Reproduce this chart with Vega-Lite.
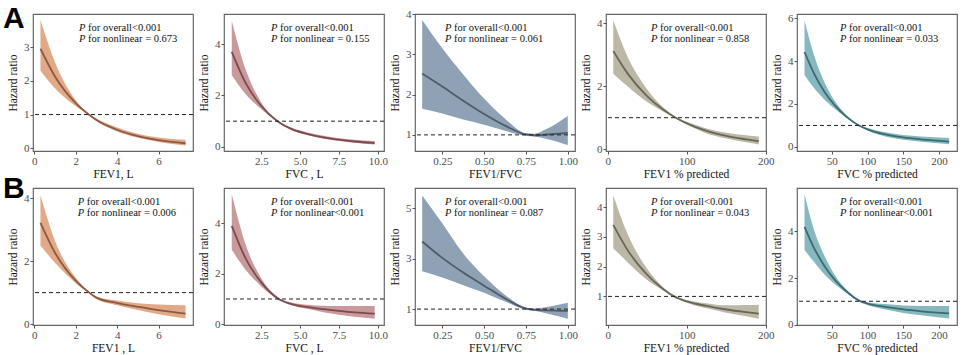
{
  "$schema": "https://vega.github.io/schema/vega-lite/v6.json",
  "background": "white",
  "padding": {"left": 2, "top": 3, "right": 5, "bottom": 0},
  "columns": 5,
  "spacing": {"row": 37, "column": 31},
  "bounds": "flush",
  "config": {
    "view": {"stroke": "#666", "strokeWidth": 1.2},
    "axis": {"grid": false, "domain": false, "tickColor": "#555", "tickSize": 3, "labelColor": "#4d4d4d", "labelFont": "Liberation Serif", "labelFontSize": 11, "labelPadding": 1, "labelOverlap": false, "labelFlush": false, "labelBound": false, "titleFont": "Liberation Serif", "titleFontSize": 11.5, "titleFontWeight": "normal", "titleColor": "#111", "titlePadding": 2},
    "axisX": {"labelOverlap": false},
    "axisY": {"labelOverlap": false, "titlePadding": 5},
    "line": {"strokeWidth": 1.8, "interpolate": "monotone"},
    "area": {"interpolate": "monotone"},
    "rule": {"strokeDash": [4, 3], "color": "#222", "strokeWidth": 1}
  },
  "datasets": {
    "d1": [{"x":0.3,"hr":2.95,"lo":2.3,"hi":3.8},{"x":1,"hr":2.13,"lo":1.78,"hi":2.55},{"x":2,"hr":1.34,"lo":1.25,"hi":1.43},{"x":2.63,"hr":1.0,"lo":0.98,"hi":1.02},{"x":3,"hr":0.84,"lo":0.81,"hi":0.88},{"x":4,"hr":0.55,"lo":0.5,"hi":0.62},{"x":5,"hr":0.36,"lo":0.31,"hi":0.43},{"x":6,"hr":0.24,"lo":0.19,"hi":0.32},{"x":7.3,"hr":0.15,"lo":0.08,"hi":0.25}],
    "d2": [{"x":0.6,"hr":3.7,"lo":2.8,"hi":4.9},{"x":1.5,"hr":2.48,"lo":2.05,"hi":3.0},{"x":2.5,"hr":1.59,"lo":1.47,"hi":1.73},{"x":3.54,"hr":1.0,"lo":0.97,"hi":1.03},{"x":4.5,"hr":0.68,"lo":0.64,"hi":0.73},{"x":5.5,"hr":0.5,"lo":0.45,"hi":0.56},{"x":6.5,"hr":0.37,"lo":0.32,"hi":0.43},{"x":7.5,"hr":0.28,"lo":0.23,"hi":0.34},{"x":8.5,"hr":0.21,"lo":0.16,"hi":0.28},{"x":9.8,"hr":0.15,"lo":0.09,"hi":0.23}],
    "d3": [{"x":0.13,"hr":2.52,"lo":1.65,"hi":3.85},{"x":0.25,"hr":2.2,"lo":1.53,"hi":3.15},{"x":0.375,"hr":1.85,"lo":1.38,"hi":2.5},{"x":0.5,"hr":1.52,"lo":1.25,"hi":1.9},{"x":0.625,"hr":1.23,"lo":1.1,"hi":1.4},{"x":0.75,"hr":1.01,"lo":0.98,"hi":1.04},{"x":0.8,"hr":0.99,"lo":0.96,"hi":1.03},{"x":0.875,"hr":1.01,"lo":0.9,"hi":1.15},{"x":1.0,"hr":1.05,"lo":0.75,"hi":1.47}],
    "d4": [{"x":7,"hr":3.12,"lo":2.4,"hi":4.1},{"x":25,"hr":2.41,"lo":2.0,"hi":2.95},{"x":50,"hr":1.68,"lo":1.5,"hi":1.9},{"x":70,"hr":1.26,"lo":1.2,"hi":1.33},{"x":86,"hr":1.0,"lo":0.98,"hi":1.02},{"x":100,"hr":0.82,"lo":0.78,"hi":0.87},{"x":125,"hr":0.58,"lo":0.5,"hi":0.66},{"x":150,"hr":0.42,"lo":0.34,"hi":0.52},{"x":175,"hr":0.31,"lo":0.22,"hi":0.44},{"x":191,"hr":0.25,"lo":0.15,"hi":0.4}],
    "d5": [{"x":12,"hr":4.42,"lo":3.35,"hi":5.9},{"x":25,"hr":3.44,"lo":2.75,"hi":4.3},{"x":40,"hr":2.56,"lo":2.2,"hi":3.0},{"x":55,"hr":1.91,"lo":1.75,"hi":2.1},{"x":70,"hr":1.42,"lo":1.36,"hi":1.5},{"x":88,"hr":1.0,"lo":0.97,"hi":1.03},{"x":100,"hr":0.82,"lo":0.76,"hi":0.88},{"x":125,"hr":0.58,"lo":0.48,"hi":0.68},{"x":150,"hr":0.44,"lo":0.33,"hi":0.55},{"x":175,"hr":0.35,"lo":0.24,"hi":0.48},{"x":214,"hr":0.25,"lo":0.12,"hi":0.42}],
    "d6": [{"x":0.3,"hr":3.22,"lo":2.5,"hi":4.1},{"x":1,"hr":2.27,"lo":1.95,"hi":2.65},{"x":2,"hr":1.38,"lo":1.3,"hi":1.47},{"x":2.65,"hr":1.0,"lo":0.97,"hi":1.03},{"x":3,"hr":0.84,"lo":0.8,"hi":0.88},{"x":4,"hr":0.67,"lo":0.6,"hi":0.75},{"x":5,"hr":0.55,"lo":0.45,"hi":0.66},{"x":6,"hr":0.44,"lo":0.31,"hi":0.62},{"x":7.3,"hr":0.33,"lo":0.18,"hi":0.6}],
    "d7": [{"x":0.6,"hr":3.9,"lo":2.95,"hi":5.15},{"x":1.5,"hr":2.6,"lo":2.15,"hi":3.15},{"x":2.5,"hr":1.66,"lo":1.5,"hi":1.82},{"x":3.63,"hr":1.0,"lo":0.96,"hi":1.04},{"x":4.5,"hr":0.79,"lo":0.74,"hi":0.85},{"x":5.5,"hr":0.68,"lo":0.6,"hi":0.77},{"x":6.5,"hr":0.6,"lo":0.48,"hi":0.73},{"x":7.5,"hr":0.53,"lo":0.38,"hi":0.72},{"x":8.5,"hr":0.47,"lo":0.3,"hi":0.72},{"x":9.8,"hr":0.42,"lo":0.22,"hi":0.72}],
    "d8": [{"x":0.13,"hr":3.68,"lo":2.5,"hi":5.5},{"x":0.25,"hr":3.03,"lo":2.25,"hi":4.4},{"x":0.375,"hr":2.45,"lo":1.95,"hi":3.2},{"x":0.5,"hr":1.93,"lo":1.65,"hi":2.3},{"x":0.625,"hr":1.42,"lo":1.3,"hi":1.56},{"x":0.75,"hr":1.02,"lo":0.98,"hi":1.06},{"x":0.8,"hr":0.97,"lo":0.93,"hi":1.02},{"x":0.875,"hr":0.95,"lo":0.83,"hi":1.08},{"x":1.0,"hr":0.93,"lo":0.62,"hi":1.25}],
    "d9": [{"x":7,"hr":3.4,"lo":2.62,"hi":4.4},{"x":25,"hr":2.56,"lo":2.15,"hi":3.1},{"x":50,"hr":1.72,"lo":1.55,"hi":1.92},{"x":70,"hr":1.25,"lo":1.2,"hi":1.31},{"x":84,"hr":1.0,"lo":0.98,"hi":1.02},{"x":100,"hr":0.83,"lo":0.79,"hi":0.88},{"x":125,"hr":0.68,"lo":0.6,"hi":0.77},{"x":150,"hr":0.56,"lo":0.45,"hi":0.7},{"x":175,"hr":0.47,"lo":0.33,"hi":0.71},{"x":191,"hr":0.42,"lo":0.25,"hi":0.72}],
    "d10": [{"x":12,"hr":4.2,"lo":3.2,"hi":5.6},{"x":25,"hr":3.31,"lo":2.7,"hi":4.1},{"x":40,"hr":2.51,"lo":2.15,"hi":2.95},{"x":55,"hr":1.9,"lo":1.72,"hi":2.1},{"x":70,"hr":1.44,"lo":1.37,"hi":1.52},{"x":90,"hr":1.0,"lo":0.96,"hi":1.04},{"x":100,"hr":0.9,"lo":0.84,"hi":0.96},{"x":125,"hr":0.76,"lo":0.65,"hi":0.88},{"x":150,"hr":0.65,"lo":0.5,"hi":0.82},{"x":175,"hr":0.57,"lo":0.4,"hi":0.8},{"x":214,"hr":0.48,"lo":0.26,"hi":0.8}],
    "ref": [{"hr":1}],
    "lab": [{"panel":1,"x":-1.51,"y":3.565,"label":"A"},{"panel":6,"x":-1.51,"y":4.01,"label":"B"}],
    "ann": [
      {"panel":1,"x":2.16,"y":3.565,"p":"P","rest":"for overall<0.001"},{"panel":1,"x":2.16,"y":3.24,"p":"P","rest":"for nonlinear = 0.673"},
      {"panel":2,"x":3.13,"y":4.625,"p":"P","rest":"for overall<0.001"},{"panel":2,"x":3.13,"y":4.2,"p":"P","rest":"for nonlinear = 0.155"},
      {"panel":3,"x":0.266,"y":3.65,"p":"P","rest":"for overall<0.001"},{"panel":3,"x":0.266,"y":3.38,"p":"P","rest":"for nonlinear = 0.061"},
      {"panel":4,"x":54.7,"y":3.85,"p":"P","rest":"for overall<0.001"},{"panel":4,"x":54.7,"y":3.5,"p":"P","rest":"for nonlinear = 0.858"},
      {"panel":5,"x":61.6,"y":5.54,"p":"P","rest":"for overall<0.001"},{"panel":5,"x":61.6,"y":5.03,"p":"P","rest":"for nonlinear = 0.033"},
      {"panel":6,"x":2.1,"y":3.88,"p":"P","rest":"for overall<0.001"},{"panel":6,"x":2.1,"y":3.53,"p":"P","rest":"for nonlinear = 0.006"},
      {"panel":7,"x":3.13,"y":4.845,"p":"P","rest":"for overall<0.001"},{"panel":7,"x":3.13,"y":4.41,"p":"P","rest":"for nonlinear<0.001"},
      {"panel":8,"x":0.266,"y":5.245,"p":"P","rest":"for overall<0.001"},{"panel":8,"x":0.266,"y":4.81,"p":"P","rest":"for nonlinear = 0.087"},
      {"panel":9,"x":54.7,"y":4.17,"p":"P","rest":"for overall<0.001"},{"panel":9,"x":54.7,"y":3.8,"p":"P","rest":"for nonlinear = 0.043"},
      {"panel":10,"x":61.6,"y":5.27,"p":"P","rest":"for overall<0.001"},{"panel":10,"x":61.6,"y":4.79,"p":"P","rest":"for nonlinear<0.001"}
    ]
  },
  "concat": [
    {"width":160,"height":137,
     "layer":[
      {"data":{"name":"d1"},"mark":{"type":"area","color":"#e2a987"},"encoding":{"x":{"field":"x","type":"quantitative","title":"FEV1, L","scale":{"domain":[-0.06,7.66],"nice":false,"zero":false},"axis":{"values":[0,2,4,6],"labelOverlap":false}},"y":{"field":"lo","type":"quantitative","title":"Hazard ratio","scale":{"domain":[-0.08,3.98],"nice":false,"zero":false},"axis":{"values":[0,1,2,3],"labelOverlap":false}},"y2":{"field":"hi"}}},
      {"data":{"name":"d1"},"mark":{"type":"line","color":"#8b5a45"},"encoding":{"x":{"field":"x","type":"quantitative","title":"FEV1, L"},"y":{"field":"hr","type":"quantitative","title":"Hazard ratio"}}},
      {"data":{"name":"ref"},"mark":{"type":"rule"},"encoding":{"y":{"field":"hr","type":"quantitative","title":"Hazard ratio"}}},
      {"data":{"name":"ann"},"transform":[{"filter":"datum.panel==1"}],"mark":{"type":"text","font":"Liberation Serif","fontSize":10.5,"align":"left","baseline":"middle","color":"#111","fontStyle":"italic"},"encoding":{"x":{"field":"x","type":"quantitative","title":"FEV1, L"},"y":{"field":"y","type":"quantitative","title":"Hazard ratio"},"text":{"field":"p"}}},
      {"data":{"name":"ann"},"transform":[{"filter":"datum.panel==1"}],"mark":{"type":"text","font":"Liberation Serif","fontSize":10.5,"align":"left","baseline":"middle","color":"#111","dx":9},"encoding":{"x":{"field":"x","type":"quantitative","title":"FEV1, L"},"y":{"field":"y","type":"quantitative","title":"Hazard ratio"},"text":{"field":"rest"}}},
      {"data":{"name":"lab"},"transform":[{"filter":"datum.panel==1"}],"mark":{"type":"text","font":"Liberation Sans","fontSize":30,"fontWeight":"bold","baseline":"alphabetic","align":"left","clip":false,"color":"#000"},"encoding":{"x":{"field":"x","type":"quantitative","title":"FEV1, L"},"y":{"field":"y","type":"quantitative","title":"Hazard ratio"},"text":{"field":"label"}}}
     ]},
    {"width":160,"height":137,
     "layer":[
      {"data":{"name":"d2"},"mark":{"type":"area","color":"#c9999c"},"encoding":{"x":{"field":"x","type":"quantitative","title":"FVC , L","scale":{"domain":[0.1,10.4],"nice":false,"zero":false},"axis":{"values":[2.5,5,7.5,10],"format":".1f","labelOverlap":false}},"y":{"field":"lo","type":"quantitative","title":"Hazard ratio","scale":{"domain":[-0.16,5.17],"nice":false,"zero":false},"axis":{"values":[0,1,2,3,4,5],"labelOverlap":false}},"y2":{"field":"hi"}}},
      {"data":{"name":"d2"},"mark":{"type":"line","color":"#7b4b50"},"encoding":{"x":{"field":"x","type":"quantitative","title":"FVC , L"},"y":{"field":"hr","type":"quantitative","title":"Hazard ratio"}}},
      {"data":{"name":"ref"},"mark":{"type":"rule"},"encoding":{"y":{"field":"hr","type":"quantitative","title":"Hazard ratio"}}},
      {"data":{"name":"ann"},"transform":[{"filter":"datum.panel==2"}],"mark":{"type":"text","font":"Liberation Serif","fontSize":10.5,"align":"left","baseline":"middle","color":"#111","fontStyle":"italic"},"encoding":{"x":{"field":"x","type":"quantitative","title":"FVC , L"},"y":{"field":"y","type":"quantitative","title":"Hazard ratio"},"text":{"field":"p"}}},
      {"data":{"name":"ann"},"transform":[{"filter":"datum.panel==2"}],"mark":{"type":"text","font":"Liberation Serif","fontSize":10.5,"align":"left","baseline":"middle","color":"#111","dx":9},"encoding":{"x":{"field":"x","type":"quantitative","title":"FVC , L"},"y":{"field":"y","type":"quantitative","title":"Hazard ratio"},"text":{"field":"rest"}}}
     ]},
    {"width":160,"height":137,
     "layer":[
      {"data":{"name":"d3"},"mark":{"type":"area","color":"#8fa2b5"},"encoding":{"x":{"field":"x","type":"quantitative","title":"FEV1/FVC","scale":{"domain":[0.087,1.043],"nice":false,"zero":false},"axis":{"values":[0.25,0.5,0.75,1],"format":".2f","labelOverlap":false}},"y":{"field":"lo","type":"quantitative","title":"Hazard ratio","scale":{"domain":[0.6,4.0],"nice":false,"zero":false},"axis":{"values":[1,2,3,4],"labelOverlap":false}},"y2":{"field":"hi"}}},
      {"data":{"name":"d3"},"mark":{"type":"line","color":"#4f5b68"},"encoding":{"x":{"field":"x","type":"quantitative","title":"FEV1/FVC"},"y":{"field":"hr","type":"quantitative","title":"Hazard ratio"}}},
      {"data":{"name":"ref"},"mark":{"type":"rule"},"encoding":{"y":{"field":"hr","type":"quantitative","title":"Hazard ratio"}}},
      {"data":{"name":"ann"},"transform":[{"filter":"datum.panel==3"}],"mark":{"type":"text","font":"Liberation Serif","fontSize":10.5,"align":"left","baseline":"middle","color":"#111","fontStyle":"italic"},"encoding":{"x":{"field":"x","type":"quantitative","title":"FEV1/FVC"},"y":{"field":"y","type":"quantitative","title":"Hazard ratio"},"text":{"field":"p"}}},
      {"data":{"name":"ann"},"transform":[{"filter":"datum.panel==3"}],"mark":{"type":"text","font":"Liberation Serif","fontSize":10.5,"align":"left","baseline":"middle","color":"#111","dx":9},"encoding":{"x":{"field":"x","type":"quantitative","title":"FEV1/FVC"},"y":{"field":"y","type":"quantitative","title":"Hazard ratio"},"text":{"field":"rest"}}}
     ]},
    {"width":160,"height":137,
     "layer":[
      {"data":{"name":"d4"},"mark":{"type":"area","color":"#bdb8a6"},"encoding":{"x":{"field":"x","type":"quantitative","title":"FEV1 % predicted","scale":{"domain":[-2.2,200.2],"nice":false,"zero":false},"axis":{"values":[0,50,100,150,200],"labelOverlap":false}},"y":{"field":"lo","type":"quantitative","title":"Hazard ratio","scale":{"domain":[-0.06,4.3],"nice":false,"zero":false},"axis":{"values":[0,1,2,3,4],"labelOverlap":false}},"y2":{"field":"hi"}}},
      {"data":{"name":"d4"},"mark":{"type":"line","color":"#6a665b"},"encoding":{"x":{"field":"x","type":"quantitative","title":"FEV1 % predicted"},"y":{"field":"hr","type":"quantitative","title":"Hazard ratio"}}},
      {"data":{"name":"ref"},"mark":{"type":"rule"},"encoding":{"y":{"field":"hr","type":"quantitative","title":"Hazard ratio"}}},
      {"data":{"name":"ann"},"transform":[{"filter":"datum.panel==4"}],"mark":{"type":"text","font":"Liberation Serif","fontSize":10.5,"align":"left","baseline":"middle","color":"#111","fontStyle":"italic"},"encoding":{"x":{"field":"x","type":"quantitative","title":"FEV1 % predicted"},"y":{"field":"y","type":"quantitative","title":"Hazard ratio"},"text":{"field":"p"}}},
      {"data":{"name":"ann"},"transform":[{"filter":"datum.panel==4"}],"mark":{"type":"text","font":"Liberation Serif","fontSize":10.5,"align":"left","baseline":"middle","color":"#111","dx":9},"encoding":{"x":{"field":"x","type":"quantitative","title":"FEV1 % predicted"},"y":{"field":"y","type":"quantitative","title":"Hazard ratio"},"text":{"field":"rest"}}}
     ]},
    {"width":160,"height":137,
     "layer":[
      {"data":{"name":"d5"},"mark":{"type":"area","color":"#86b9bf"},"encoding":{"x":{"field":"x","type":"quantitative","title":"FVC % predicted","scale":{"domain":[1.5,225],"nice":false,"zero":false},"axis":{"values":[50,100,150,200],"labelOverlap":false}},"y":{"field":"lo","type":"quantitative","title":"Hazard ratio","scale":{"domain":[-0.19,6.19],"nice":false,"zero":false},"axis":{"values":[0,2,4,6],"labelOverlap":false}},"y2":{"field":"hi"}}},
      {"data":{"name":"d5"},"mark":{"type":"line","color":"#3e6a70"},"encoding":{"x":{"field":"x","type":"quantitative","title":"FVC % predicted"},"y":{"field":"hr","type":"quantitative","title":"Hazard ratio"}}},
      {"data":{"name":"ref"},"mark":{"type":"rule"},"encoding":{"y":{"field":"hr","type":"quantitative","title":"Hazard ratio"}}},
      {"data":{"name":"ann"},"transform":[{"filter":"datum.panel==5"}],"mark":{"type":"text","font":"Liberation Serif","fontSize":10.5,"align":"left","baseline":"middle","color":"#111","fontStyle":"italic"},"encoding":{"x":{"field":"x","type":"quantitative","title":"FVC % predicted"},"y":{"field":"y","type":"quantitative","title":"Hazard ratio"},"text":{"field":"p"}}},
      {"data":{"name":"ann"},"transform":[{"filter":"datum.panel==5"}],"mark":{"type":"text","font":"Liberation Serif","fontSize":10.5,"align":"left","baseline":"middle","color":"#111","dx":9},"encoding":{"x":{"field":"x","type":"quantitative","title":"FVC % predicted"},"y":{"field":"y","type":"quantitative","title":"Hazard ratio"},"text":{"field":"rest"}}}
     ]},
    {"width":160,"height":137,
     "layer":[
      {"data":{"name":"d6"},"mark":{"type":"area","color":"#e2a987"},"encoding":{"x":{"field":"x","type":"quantitative","title":"FEV1 , L","scale":{"domain":[-0.06,7.66],"nice":false,"zero":false},"axis":{"values":[0,2,4,6],"labelOverlap":false}},"y":{"field":"lo","type":"quantitative","title":"Hazard ratio","scale":{"domain":[-0.03,4.33],"nice":false,"zero":false},"axis":{"values":[0,1,2,3,4],"labelOverlap":false}},"y2":{"field":"hi"}}},
      {"data":{"name":"d6"},"mark":{"type":"line","color":"#8b5a45"},"encoding":{"x":{"field":"x","type":"quantitative","title":"FEV1 , L"},"y":{"field":"hr","type":"quantitative","title":"Hazard ratio"}}},
      {"data":{"name":"ref"},"mark":{"type":"rule"},"encoding":{"y":{"field":"hr","type":"quantitative","title":"Hazard ratio"}}},
      {"data":{"name":"ann"},"transform":[{"filter":"datum.panel==6"}],"mark":{"type":"text","font":"Liberation Serif","fontSize":10.5,"align":"left","baseline":"middle","color":"#111","fontStyle":"italic"},"encoding":{"x":{"field":"x","type":"quantitative","title":"FEV1 , L"},"y":{"field":"y","type":"quantitative","title":"Hazard ratio"},"text":{"field":"p"}}},
      {"data":{"name":"ann"},"transform":[{"filter":"datum.panel==6"}],"mark":{"type":"text","font":"Liberation Serif","fontSize":10.5,"align":"left","baseline":"middle","color":"#111","dx":9},"encoding":{"x":{"field":"x","type":"quantitative","title":"FEV1 , L"},"y":{"field":"y","type":"quantitative","title":"Hazard ratio"},"text":{"field":"rest"}}},
      {"data":{"name":"lab"},"transform":[{"filter":"datum.panel==6"}],"mark":{"type":"text","font":"Liberation Sans","fontSize":30,"fontWeight":"bold","baseline":"alphabetic","align":"left","clip":false,"color":"#000"},"encoding":{"x":{"field":"x","type":"quantitative","title":"FEV1 , L"},"y":{"field":"y","type":"quantitative","title":"Hazard ratio"},"text":{"field":"label"}}}
     ]},
    {"width":160,"height":137,
     "layer":[
      {"data":{"name":"d7"},"mark":{"type":"area","color":"#c9999c"},"encoding":{"x":{"field":"x","type":"quantitative","title":"FVC , L","scale":{"domain":[0.1,10.4],"nice":false,"zero":false},"axis":{"values":[2.5,5,7.5,10],"format":".1f","labelOverlap":false}},"y":{"field":"lo","type":"quantitative","title":"Hazard ratio","scale":{"domain":[-0.03,5.4],"nice":false,"zero":false},"axis":{"values":[0,1,2,3,4,5],"labelOverlap":false}},"y2":{"field":"hi"}}},
      {"data":{"name":"d7"},"mark":{"type":"line","color":"#7b4b50"},"encoding":{"x":{"field":"x","type":"quantitative","title":"FVC , L"},"y":{"field":"hr","type":"quantitative","title":"Hazard ratio"}}},
      {"data":{"name":"ref"},"mark":{"type":"rule"},"encoding":{"y":{"field":"hr","type":"quantitative","title":"Hazard ratio"}}},
      {"data":{"name":"ann"},"transform":[{"filter":"datum.panel==7"}],"mark":{"type":"text","font":"Liberation Serif","fontSize":10.5,"align":"left","baseline":"middle","color":"#111","fontStyle":"italic"},"encoding":{"x":{"field":"x","type":"quantitative","title":"FVC , L"},"y":{"field":"y","type":"quantitative","title":"Hazard ratio"},"text":{"field":"p"}}},
      {"data":{"name":"ann"},"transform":[{"filter":"datum.panel==7"}],"mark":{"type":"text","font":"Liberation Serif","fontSize":10.5,"align":"left","baseline":"middle","color":"#111","dx":9},"encoding":{"x":{"field":"x","type":"quantitative","title":"FVC , L"},"y":{"field":"y","type":"quantitative","title":"Hazard ratio"},"text":{"field":"rest"}}}
     ]},
    {"width":160,"height":137,
     "layer":[
      {"data":{"name":"d8"},"mark":{"type":"area","color":"#8fa2b5"},"encoding":{"x":{"field":"x","type":"quantitative","title":"FEV1/FVC","scale":{"domain":[0.087,1.043],"nice":false,"zero":false},"axis":{"values":[0.25,0.5,0.75,1],"format":".2f","labelOverlap":false}},"y":{"field":"lo","type":"quantitative","title":"Hazard ratio","scale":{"domain":[0.37,5.8],"nice":false,"zero":false},"axis":{"values":[1,2,3,4,5],"labelOverlap":false}},"y2":{"field":"hi"}}},
      {"data":{"name":"d8"},"mark":{"type":"line","color":"#4f5b68"},"encoding":{"x":{"field":"x","type":"quantitative","title":"FEV1/FVC"},"y":{"field":"hr","type":"quantitative","title":"Hazard ratio"}}},
      {"data":{"name":"ref"},"mark":{"type":"rule"},"encoding":{"y":{"field":"hr","type":"quantitative","title":"Hazard ratio"}}},
      {"data":{"name":"ann"},"transform":[{"filter":"datum.panel==8"}],"mark":{"type":"text","font":"Liberation Serif","fontSize":10.5,"align":"left","baseline":"middle","color":"#111","fontStyle":"italic"},"encoding":{"x":{"field":"x","type":"quantitative","title":"FEV1/FVC"},"y":{"field":"y","type":"quantitative","title":"Hazard ratio"},"text":{"field":"p"}}},
      {"data":{"name":"ann"},"transform":[{"filter":"datum.panel==8"}],"mark":{"type":"text","font":"Liberation Serif","fontSize":10.5,"align":"left","baseline":"middle","color":"#111","dx":9},"encoding":{"x":{"field":"x","type":"quantitative","title":"FEV1/FVC"},"y":{"field":"y","type":"quantitative","title":"Hazard ratio"},"text":{"field":"rest"}}}
     ]},
    {"width":160,"height":137,
     "layer":[
      {"data":{"name":"d9"},"mark":{"type":"area","color":"#bdb8a6"},"encoding":{"x":{"field":"x","type":"quantitative","title":"FEV1 % predicted","scale":{"domain":[-2.2,200.2],"nice":false,"zero":false},"axis":{"values":[0,50,100,150,200],"labelOverlap":false}},"y":{"field":"lo","type":"quantitative","title":"Hazard ratio","scale":{"domain":[0.04,4.64],"nice":false,"zero":false},"axis":{"values":[1,2,3,4],"labelOverlap":false}},"y2":{"field":"hi"}}},
      {"data":{"name":"d9"},"mark":{"type":"line","color":"#6a665b"},"encoding":{"x":{"field":"x","type":"quantitative","title":"FEV1 % predicted"},"y":{"field":"hr","type":"quantitative","title":"Hazard ratio"}}},
      {"data":{"name":"ref"},"mark":{"type":"rule"},"encoding":{"y":{"field":"hr","type":"quantitative","title":"Hazard ratio"}}},
      {"data":{"name":"ann"},"transform":[{"filter":"datum.panel==9"}],"mark":{"type":"text","font":"Liberation Serif","fontSize":10.5,"align":"left","baseline":"middle","color":"#111","fontStyle":"italic"},"encoding":{"x":{"field":"x","type":"quantitative","title":"FEV1 % predicted"},"y":{"field":"y","type":"quantitative","title":"Hazard ratio"},"text":{"field":"p"}}},
      {"data":{"name":"ann"},"transform":[{"filter":"datum.panel==9"}],"mark":{"type":"text","font":"Liberation Serif","fontSize":10.5,"align":"left","baseline":"middle","color":"#111","dx":9},"encoding":{"x":{"field":"x","type":"quantitative","title":"FEV1 % predicted"},"y":{"field":"y","type":"quantitative","title":"Hazard ratio"},"text":{"field":"rest"}}}
     ]},
    {"width":160,"height":137,
     "layer":[
      {"data":{"name":"d10"},"mark":{"type":"area","color":"#86b9bf"},"encoding":{"x":{"field":"x","type":"quantitative","title":"FVC % predicted","scale":{"domain":[1.5,225],"nice":false,"zero":false},"axis":{"values":[50,100,150,200],"labelOverlap":false}},"y":{"field":"lo","type":"quantitative","title":"Hazard ratio","scale":{"domain":[-0.02,5.87],"nice":false,"zero":false},"axis":{"values":[0,1,2,3,4,5],"labelOverlap":false}},"y2":{"field":"hi"}}},
      {"data":{"name":"d10"},"mark":{"type":"line","color":"#3e6a70"},"encoding":{"x":{"field":"x","type":"quantitative","title":"FVC % predicted"},"y":{"field":"hr","type":"quantitative","title":"Hazard ratio"}}},
      {"data":{"name":"ref"},"mark":{"type":"rule"},"encoding":{"y":{"field":"hr","type":"quantitative","title":"Hazard ratio"}}},
      {"data":{"name":"ann"},"transform":[{"filter":"datum.panel==10"}],"mark":{"type":"text","font":"Liberation Serif","fontSize":10.5,"align":"left","baseline":"middle","color":"#111","fontStyle":"italic"},"encoding":{"x":{"field":"x","type":"quantitative","title":"FVC % predicted"},"y":{"field":"y","type":"quantitative","title":"Hazard ratio"},"text":{"field":"p"}}},
      {"data":{"name":"ann"},"transform":[{"filter":"datum.panel==10"}],"mark":{"type":"text","font":"Liberation Serif","fontSize":10.5,"align":"left","baseline":"middle","color":"#111","dx":9},"encoding":{"x":{"field":"x","type":"quantitative","title":"FVC % predicted"},"y":{"field":"y","type":"quantitative","title":"Hazard ratio"},"text":{"field":"rest"}}}
     ]}
  ]
}
